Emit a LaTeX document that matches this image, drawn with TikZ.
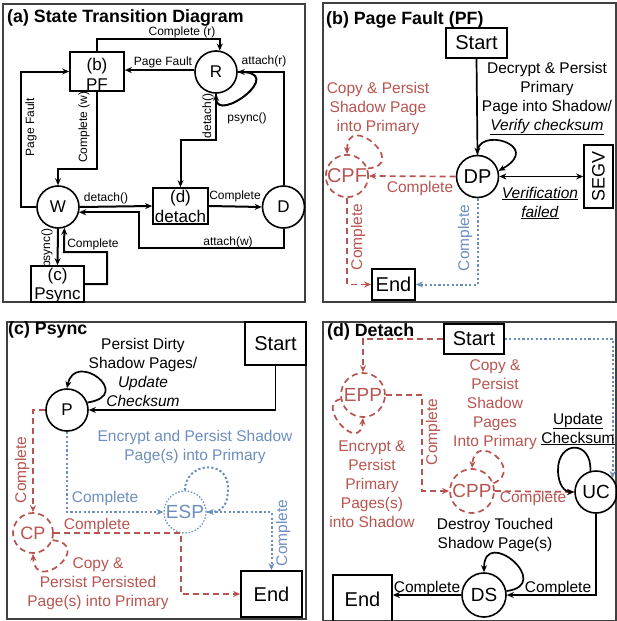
\documentclass[tikz,border=0pt]{standalone}
\usepackage{fontspec}
\setmainfont{Liberation Sans}
\usetikzlibrary{arrows.meta,calc}
\definecolor{rd}{HTML}{B85450}
\definecolor{bl}{HTML}{6C8EBF}
\begin{document}
\begin{tikzpicture}[x=1pt,y=-1pt,
  panel/.style={draw=black!75, line width=1.3pt},
  ttl/.style={anchor=base west, font=\bfseries\fontsize{17.8}{20}\selectfont, inner sep=0pt},
  st/.style={circle, draw, line width=1.6pt, minimum size=42pt, inner sep=0pt},
  bx/.style={draw, line width=1.7pt, inner sep=0pt},
  tip/.style={-{Stealth[length=7pt,width=6pt]}},
  ln/.style={line width=2pt, tip},
  lnb/.style={line width=1.7pt, tip},
  la/.style={font=\fontsize{12}{14}\selectfont, inner sep=0pt},
  lb/.style={font=\fontsize{15.5}{19}\selectfont, inner sep=0pt, align=center},
  nf/.style={font=\fontsize{20}{22}\selectfont},
  rdash/.style={draw=rd, dash pattern=on 6pt off 4pt, line width=1.7pt},
  bdot/.style={draw=bl, dash pattern=on 2.2pt off 2.2pt, line width=2pt},
  rtxt/.style={text=rd},
  btxt/.style={text=bl}]
\useasboundingbox (0,0) rectangle (616,621);
% ================= (a) =================
\draw[panel] (3,4) rectangle (305,302);
\node[ttl] at (7,23) {(a) State Transition Diagram};
\node[bx, minimum width=54pt, minimum height=39pt] (pf) at (97,71.5) {};
\node[font=\fontsize{17}{19}\selectfont, anchor=base] at (97,70) {(b)};
\node[font=\fontsize{17}{19}\selectfont, anchor=base] at (97,90) {PF};
\node[st, font=\fontsize{17}{19}\selectfont] (R) at (216,72) {R};
\node[st, font=\fontsize{17}{19}\selectfont] (W) at (58,207) {W};
\node[st, font=\fontsize{17}{19}\selectfont] (D) at (283.5,207) {D};
\node[bx, minimum width=55pt, minimum height=36pt] (det) at (180.5,206) {};
\node[font=\fontsize{17}{19}\selectfont, anchor=base] at (180.5,202) {(d)};
\node[font=\fontsize{17}{19}\selectfont, anchor=base] at (180.5,222) {detach};
\node[bx, minimum width=53pt, minimum height=36pt] (ps) at (57.5,284) {};
\node[font=\fontsize{17}{19}\selectfont, anchor=base] at (57.5,280) {(c)};
\node[font=\fontsize{17}{19}\selectfont, anchor=base] at (57.5,299) {Psync};
\draw[ln] (pf.north) -- ++(0,-12) -| (R.80);
\draw[ln] (R.175) -- (pf.east |- R.175);
\draw[ln] (D.north) |- (R.east);
\draw[ln] (R.east) .. controls (290,70) and (216,125) .. (R.south);
\draw[ln] (R.south) -- ++(0,46) -| (det.north);
\draw[ln] (W.west) -- ++(-15,0) |- (pf.west);
\draw[ln] (pf.south) -- ++(0,77) -| (W.north);
\draw[ln] (W.east) -- (det.west);
\draw[ln] (det.east) -- (D.west);
\draw[ln] (D.south) |- (139,248) |- (W.-14);
\draw[ln] (W.south) -- (ps.north);
\draw[ln] (ps.east) -- (107,284) |- (64,252) -- (W.-73);
\node[la] at (182,32) {Complete (r)};
\node[la] at (163,62) {Page Fault};
\node[la] at (264,61) {attach(r)};
\node[la] at (247,118) {psync()};
\node[la,rotate=90] at (208,116) {detach()};
\node[la,rotate=90] at (31,127) {Page Fault};
\node[la,rotate=90] at (84,127) {Complete (w)};
\node[la] at (106,198) {detach()};
\node[la] at (235,196) {Complete};
\node[la] at (228,242) {attach(w)};
\node[la,rotate=90] at (47,248) {psync()};
\node[la] at (93,244) {Complete};
% ================= (b) =================
\draw[panel] (323,3) rectangle (616,302);
\node[ttl] at (326,24) {(b) Page Fault (PF)};
\node[bx, nf, minimum width=61pt, minimum height=30pt] (bstart) at (476.5,43) {Start};
\node[st, nf] (DP) at (477.5,176.5) {DP};
\node[bx, minimum width=29pt, minimum height=63pt] (segv) at (598.5,176.5) {};
\node[font=\fontsize{18}{20}\selectfont, rotate=90] at (segv.center) {SEGV};
\node[circle, rdash, minimum size=42pt, inner sep=0pt, nf, rtxt] (CPF) at (347,176) {CPF};
\node[bx, nf, minimum width=43pt, minimum height=31pt] (bend) at (393.5,284.5) {End};
\draw[lnb] (bstart.south) -- (DP.north);
\draw[lnb] (DP.north) .. controls (474,125) and (545,145) .. (DP.15);
\draw[line width=1.7pt, {Stealth[length=7pt,width=6pt]}-{Stealth[length=7pt,width=6pt]}] (DP.east) -- (segv.west);
\draw[rdash, tip] (CPF.20) .. controls (410,165) and (347,110) .. (CPF.north);
\draw[rdash, tip] (DP.west) -- (CPF.east);
\draw[rdash, tip] (CPF.south) |- (bend.west);
\draw[bdot, tip] (DP.south) |- (bend.east);
\node[lb] at (547,98.5) {Decrypt \& Persist\\Primary\\Page into Shadow/\\\underline{\textit{Verify checksum}}};
\node[lb] at (540,203) {\underline{\textit{Verification}}\\\underline{\textit{failed}}};
\node[lb, rtxt] at (378,108) {Copy \& Persist\\Shadow Page\\into Primary};
\node[lb, rtxt] at (420,188) {Complete};
\node[lb, rtxt, rotate=90] at (358,237) {Complete};
\node[lb, btxt, rotate=90] at (465,238) {Complete};
% ================= (c) =================
\draw[panel] (7,322) rectangle (306,619);
\node[ttl] at (8,334) {(c) Psync};
\node[bx, nf, minimum width=61pt, minimum height=43pt] (cstart) at (275.5,343.5) {Start};
\node[st, font=\fontsize{17}{19}\selectfont] (P) at (67,410) {P};
\node[circle, draw=bl, dash pattern=on 1.4pt off 1.8pt, line width=1.3pt, minimum size=42pt, inner sep=0pt, font=\fontsize{19}{21}\selectfont, btxt] (ESP) at (185,512) {ESP};
\node[circle, rdash, minimum size=40pt, inner sep=0pt, font=\fontsize{18}{20}\selectfont, rtxt] (CP) at (33,533) {CP};
\node[bx, nf, minimum width=61pt, minimum height=46pt] (cend) at (271.5,594) {End};
\draw[lnb] (cstart.south) |- (P.east);
\draw[lnb] (P.20) .. controls (135,395) and (75,350) .. (P.north);
\draw[bdot, tip] (P.south) |- (ESP.west);
\draw[bdot, tip] (ESP.north) .. controls (185,462) and (228,458) .. (228,488) .. controls (228,505) and (222,512) .. (ESP.east);
\draw[bdot, tip] (ESP.east) -| (cend.north);
\draw[rdash, tip] (P.west) -| (CP.north);
\draw[rdash, tip] (CP.-20) .. controls (95,545) and (35,595) .. (CP.south);
\draw[rdash, tip] (CP.east) -- (181,533) |- (cend.west);
\node[lb] at (143,372) {Persist Dirty\\Shadow Pages/\\\textit{Update}\\\textit{Checksum}};
\node[lb, btxt] at (195,447) {Encrypt and Persist Shadow\\Page(s) into Primary};
\node[lb, btxt] at (105,498) {Complete};
\node[lb, btxt, rotate=90] at (283,533) {Complete};
\node[lb, rtxt, rotate=90] at (22,470) {Complete};
\node[lb, rtxt] at (97,525) {Complete};
\node[lb, rtxt] at (98,584) {Copy \&\\Persist Persisted\\Page(s) into Primary};
% ================= (d) =================
\draw[panel] (323,322) rectangle (616,621);
\node[ttl] at (327,336) {(d) Detach};
\node[bx, nf, minimum width=60pt, minimum height=30pt] (dstart) at (474,339) {Start};
\node[circle, rdash, minimum size=44pt, inner sep=0pt, font=\fontsize{19}{21}\selectfont, rtxt] (EPP) at (363,395) {EPP};
\node[circle, rdash, minimum size=44pt, inner sep=0pt, font=\fontsize{19}{21}\selectfont, rtxt] (CPP) at (472,491) {CPP};
\node[st, font=\fontsize{19}{21}\selectfont] (UC) at (596,492) {UC};
\node[st, minimum size=44pt, font=\fontsize{19}{21}\selectfont] (DS) at (484,595) {DS};
\node[bx, nf, minimum width=59pt, minimum height=49pt] (dend) at (362.5,599.5) {End};
\draw[rdash, tip] (dstart.west) -| (EPP.north);
\draw[rdash, tip] (EPP.190) .. controls (315,405) and (360,455) .. (EPP.south);
\draw[rdash, tip] (EPP.east) -- (422,395) |- (CPP.west);
\draw[rdash, tip] (CPP.20) .. controls (525,470) and (475,430) .. (CPP.north);
\draw[rdash, tip] (CPP.east) -- (UC.west);
\draw[lnb] (UC.105) .. controls (592,440) and (558,440) .. (558,470) .. controls (558,485) and (565,492) .. (UC.west);
\draw[bdot, tip] (dstart.east) -| (UC.40);
\draw[lnb] (UC.south) |- (DS.east);
\draw[lnb] (DS.10) .. controls (555,585) and (484,525) .. (DS.north);
\draw[lnb] (DS.west) -- (dend.east |- DS.west);
\node[lb, rtxt] at (372,484) {Encrypt \&\\Persist\\Primary\\Pages(s)\\into Shadow};
\node[lb, rtxt] at (495,405) {Copy \&\\Persist\\Shadow\\Pages\\Into Primary};
\node[lb, rtxt, rotate=90] at (433,432) {Complete};
\node[lb, rtxt] at (533,498) {Complete};
\node[lb] at (578,429) {\underline{Update}\\\underline{Checksum}};
\node[lb] at (495,535) {Destroy Touched\\Shadow Page(s)};
\node[lb] at (558,588) {Complete};
\node[lb] at (427,588) {Complete};
\end{tikzpicture}
\end{document}
